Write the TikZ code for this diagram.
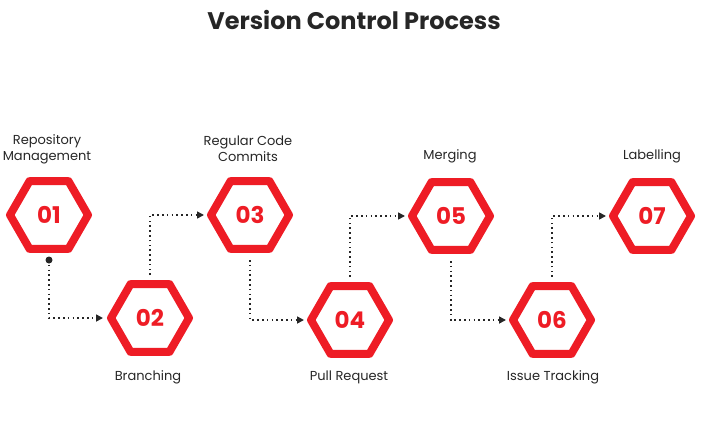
\documentclass[tikz,border=0pt]{standalone}
\usepackage{fontspec}
\setmainfont{Poppins}
\usetikzlibrary{arrows.meta}
\definecolor{hred}{HTML}{EE1C25}
\definecolor{dk}{HTML}{262626}
\begin{document}
\begin{tikzpicture}[x=1pt,y=-1pt,
  lbl/.style={font=\fontsize{13}{16}\selectfont, text=dk, align=center},
  num/.style={font=\fontsize{23}{26}\selectfont\bfseries, text=hred},
  conn/.style={draw=dk, line width=1.6pt, dash pattern=on 1.6pt off 3.2pt, -{Triangle[length=7pt,width=7pt]}}]
\useasboundingbox (0,0) rectangle (708,442);
\node[font=\fontsize{24}{28}\selectfont\bfseries, text=dk] (title) at (354,20) {Version Control Process};
\foreach \n/\x/\y in {01/49/215,02/150/318,03/250/215,04/350/320,05/451/216,06/552/320,07/652/216}{
  \draw[hred, line width=8pt, line join=round, fill=white]
    (\x-39,\y) -- (\x-19.5,\y-33.8) -- (\x+19.5,\y-33.8) -- (\x+39,\y) -- (\x+19.5,\y+33.8) -- (\x-19.5,\y+33.8) -- cycle;
  \node[num] (h\n) at (\x,\y) {\n};
}
\node[lbl] (l1) at (47,149) {Repository\\Management};
\node[lbl] (l3) at (248,149) {Regular Code\\Commits};
\node[lbl] (l5) at (450,156) {Merging};
\node[lbl] (l7) at (652,156) {Labelling};
\node[lbl] (l2) at (148,377) {Branching};
\node[lbl] (l4) at (349,377) {Pull Request};
\node[lbl] (l6) at (553,377) {Issue Tracking};
\coordinate (s1) at (49,260);
\coordinate (s2) at (150,275);
\coordinate (s3) at (250,260);
\coordinate (s4) at (350,277);
\coordinate (s5) at (451,261);
\coordinate (s6) at (552,277);
\coordinate (e2) at (103,318);
\coordinate (e3) at (204,215);
\coordinate (e4) at (304,320);
\coordinate (e5) at (405,216);
\coordinate (e6) at (506,320);
\coordinate (e7) at (606,216);
\fill[dk] (s1) circle (3.5pt);
\draw[conn] (s1) |- (e2);
\draw[conn] (s2) |- (e3);
\draw[conn] (s3) |- (e4);
\draw[conn] (s4) |- (e5);
\draw[conn] (s5) |- (e6);
\draw[conn] (s6) |- (e7);
\end{tikzpicture}
\end{document}
